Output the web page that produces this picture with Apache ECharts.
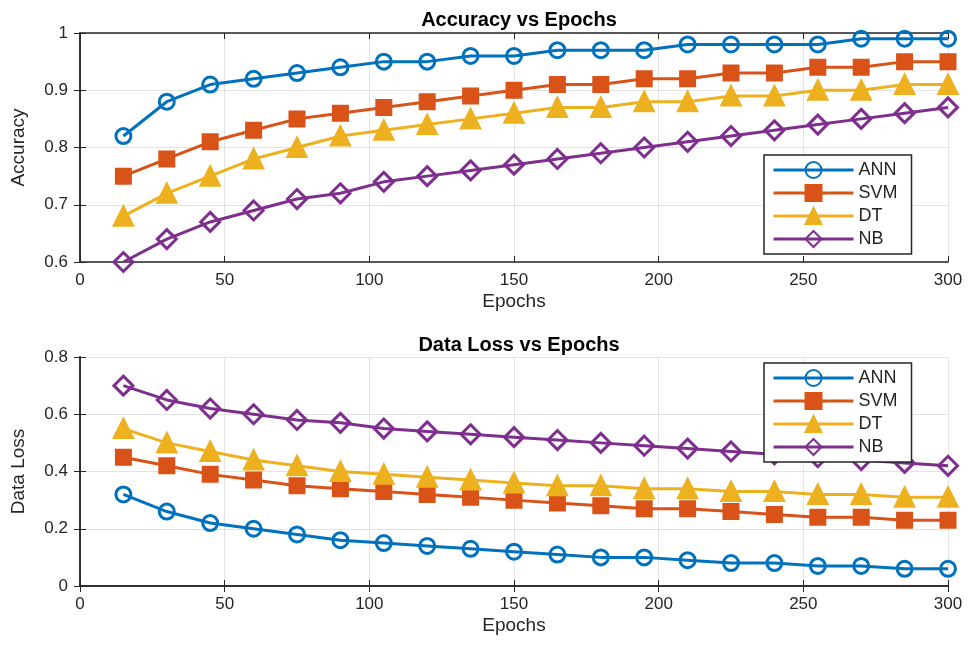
<!DOCTYPE html>
<html>
<head>
    <meta charset="utf-8">
    <title>Accuracy / Data Loss vs Epochs</title>
    <script src="https://cdn.jsdelivr.net/npm/echarts@6/dist/echarts.min.js"></script>
    <style>
        html, body { margin: 0; padding: 0; background: #fff; }
        #chart { width: 974px; height: 647px; }
    </style>
</head>
<body>
    <div id="chart"></div>
    <script>
        // data
        var epochs = [15, 30, 45, 60, 75, 90, 105, 120, 135, 150, 165, 180, 195, 210, 225, 240, 255, 270, 285, 300];
        var seriesNames = ['ANN', 'SVM', 'DT', 'NB'];

        var accANN = [0.82, 0.88, 0.91, 0.92, 0.93, 0.94, 0.95, 0.95, 0.96, 0.96, 0.97, 0.97, 0.97, 0.98, 0.98, 0.98, 0.98, 0.99, 0.99, 0.99];
        var accSVM = [0.75, 0.78, 0.81, 0.83, 0.85, 0.86, 0.87, 0.88, 0.89, 0.90, 0.91, 0.91, 0.92, 0.92, 0.93, 0.93, 0.94, 0.94, 0.95, 0.95];
        var accDT  = [0.68, 0.72, 0.75, 0.78, 0.80, 0.82, 0.83, 0.84, 0.85, 0.86, 0.87, 0.87, 0.88, 0.88, 0.89, 0.89, 0.90, 0.90, 0.91, 0.91];
        var accNB  = [0.60, 0.64, 0.67, 0.69, 0.71, 0.72, 0.74, 0.75, 0.76, 0.77, 0.78, 0.79, 0.80, 0.81, 0.82, 0.83, 0.84, 0.85, 0.86, 0.87];

        var lossANN = [0.32, 0.26, 0.22, 0.20, 0.18, 0.16, 0.15, 0.14, 0.13, 0.12, 0.11, 0.10, 0.10, 0.09, 0.08, 0.08, 0.07, 0.07, 0.06, 0.06];
        var lossSVM = [0.45, 0.42, 0.39, 0.37, 0.35, 0.34, 0.33, 0.32, 0.31, 0.30, 0.29, 0.28, 0.27, 0.27, 0.26, 0.25, 0.24, 0.24, 0.23, 0.23];
        var lossDT  = [0.55, 0.50, 0.47, 0.44, 0.42, 0.40, 0.39, 0.38, 0.37, 0.36, 0.35, 0.35, 0.34, 0.34, 0.33, 0.33, 0.32, 0.32, 0.31, 0.31];
        var lossNB  = [0.70, 0.65, 0.62, 0.60, 0.58, 0.57, 0.55, 0.54, 0.53, 0.52, 0.51, 0.50, 0.49, 0.48, 0.47, 0.46, 0.45, 0.44, 0.43, 0.42];

        var colors = ['#0072BD', '#D95319', '#EDB120', '#7E2F8E'];
        var symbols = ['circle', 'rect', 'triangle', 'diamond'];
        var sizes = [15, 14, 18, 19];
        var hollow = [true, false, false, true];
        var font = 'Liberation Sans';
        var axisColor = '#262626';

        var chart = echarts.init(document.getElementById('chart'));

        function pairs(ys) {
            return ys.map(function (y, i) { return [epochs[i], y]; });
        }

        function mkSeries(name, idx, ys, axisIdx) {
            return {
                name: name,
                type: 'line',
                xAxisIndex: axisIdx,
                yAxisIndex: axisIdx,
                data: pairs(ys),
                symbol: symbols[idx],
                symbolSize: sizes[idx],
                showSymbol: true,
                animation: false,
                z: 3,
                lineStyle: { color: colors[idx], width: 3 },
                itemStyle: {
                    color: hollow[idx] ? 'rgba(255,255,255,0)' : colors[idx],
                    borderColor: colors[idx],
                    borderWidth: 3
                }
            };
        }

        function bottomAxis(grid, name) {
            return {
                type: 'value', gridIndex: grid, min: 0, max: 300, interval: 50,
                name: name, nameLocation: 'middle', nameGap: 30,
                nameTextStyle: { fontFamily: font, fontSize: 19, color: axisColor },
                axisLine: { show: true, lineStyle: { color: axisColor, width: 1.5 } },
                axisTick: { show: true, inside: true, length: 6, lineStyle: { color: axisColor } },
                axisLabel: { fontFamily: font, fontSize: 17, color: axisColor, margin: 10 },
                splitLine: { show: true, lineStyle: { color: '#e3e3e3', width: 1 } }
            };
        }

        function topAxis(grid) {
            return {
                type: 'value', gridIndex: grid, min: 0, max: 300, interval: 50, position: 'top',
                axisLine: { show: true, lineStyle: { color: axisColor, width: 1.5 } },
                axisTick: { show: true, inside: true, length: 6, lineStyle: { color: axisColor } },
                axisLabel: { show: false },
                splitLine: { show: false }
            };
        }

        function leftAxis(grid, name, min, max, step) {
            return {
                type: 'value', gridIndex: grid, min: min, max: max, interval: step,
                name: name, nameLocation: 'middle', nameGap: 52, nameRotate: 90,
                nameTextStyle: { fontFamily: font, fontSize: 19, color: axisColor },
                axisLine: { show: true, lineStyle: { color: axisColor, width: 1.5 } },
                axisTick: { show: true, inside: true, length: 6, lineStyle: { color: axisColor } },
                axisLabel: {
                    fontFamily: font, fontSize: 17, color: axisColor, margin: 12,
                    formatter: function (v) { return String(parseFloat(v.toFixed(2))); }
                },
                splitLine: { show: true, lineStyle: { color: '#e3e3e3', width: 1 } }
            };
        }

        function rightAxis(grid, min, max, step) {
            return {
                type: 'value', gridIndex: grid, min: min, max: max, interval: step, position: 'right',
                axisLine: { show: true, lineStyle: { color: axisColor, width: 1.5 } },
                axisTick: { show: true, inside: true, length: 6, lineStyle: { color: axisColor } },
                axisLabel: { show: false },
                splitLine: { show: false }
            };
        }

        function legendBox(top) {
            return {
                data: seriesNames,
                orient: 'vertical',
                left: 764,
                top: top,
                z: 20,
                itemWidth: 80,
                itemHeight: 20,
                itemGap: 5,
                padding: [6, 14, 6, 8],
                backgroundColor: '#fff',
                borderColor: '#262626',
                borderWidth: 1.5,
                lineStyle: { width: 3 },
                textStyle: { fontFamily: font, fontSize: 18, color: axisColor }
            };
        }

        var option = {
            backgroundColor: '#fff',
            animation: false,
            title: [
                { text: 'Accuracy vs Epochs', left: 514, top: 5, textAlign: 'center',
                  textStyle: { fontFamily: font, fontSize: 20, fontWeight: 'bold', color: '#000' } },
                { text: 'Data Loss vs Epochs', left: 514, top: 330, textAlign: 'center',
                  textStyle: { fontFamily: font, fontSize: 20, fontWeight: 'bold', color: '#000' } }
            ],
            legend: [legendBox(155), legendBox(363)],
            grid: [
                { left: 80, right: 26, top: 33, height: 229 },
                { left: 80, right: 26, top: 357, height: 229 }
            ],
            xAxis: [bottomAxis(0, 'Epochs'), bottomAxis(1, 'Epochs'), topAxis(0), topAxis(1)],
            yAxis: [
                leftAxis(0, 'Accuracy', 0.6, 1, 0.1),
                leftAxis(1, 'Data Loss', 0, 0.8, 0.2),
                rightAxis(0, 0.6, 1, 0.1),
                rightAxis(1, 0, 0.8, 0.2)
            ],
            series: [
                mkSeries('ANN', 0, accANN, 0),
                mkSeries('SVM', 1, accSVM, 0),
                mkSeries('DT', 2, accDT, 0),
                mkSeries('NB', 3, accNB, 0),
                mkSeries('ANN', 0, lossANN, 1),
                mkSeries('SVM', 1, lossSVM, 1),
                mkSeries('DT', 2, lossDT, 1),
                mkSeries('NB', 3, lossNB, 1)
            ]
        };
        chart.setOption(option);
    </script>
</body>
</html>
